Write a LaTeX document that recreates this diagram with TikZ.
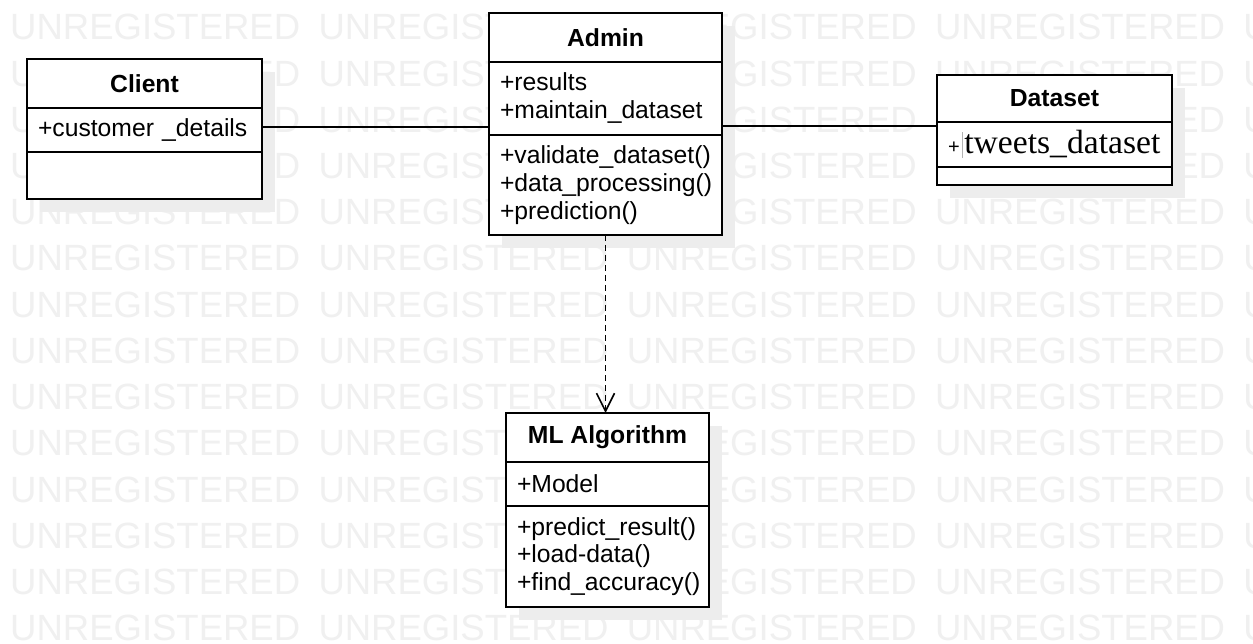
\documentclass[tikz,border=0pt]{standalone}
\usepackage{fontspec}
\setmainfont{Liberation Sans}
\newfontfamily\serifface{Liberation Serif}
\usetikzlibrary{arrows.meta}

\tikzset{
  part/.style={draw=black, line width=1.6pt, fill=white, anchor=north west,
    inner xsep=0pt, inner ysep=0pt, outer sep=0pt},
  titlepart/.style={part, font=\bfseries\fontsize{24.7}{28}\selectfont},
  listpart/.style={part, inner xsep=11pt, align=left,
    font=\fontsize{24.7}{28}\selectfont},
  shade/.style={fill=black!7, draw=none},
  wmark/.style={text=black!6, font=\fontsize{36.5}{40}\selectfont,
    anchor=base west, inner sep=0pt},
  link/.style={line width=1.6pt},
  depend/.style={line width=1.8pt, dash pattern=on 6pt off 4pt,
    -{Straight Barb[length=18pt,width=18pt,line width=1.6pt]}}
}

\begin{document}
\begin{tikzpicture}[x=1pt,y=-1pt]
\useasboundingbox (0,0) rectangle (1253,644);
\fill[white] (0,0) rectangle (1253,644);

% background lettering
\begin{scope}
  \clip (0,0) rectangle (1253,644);
  \foreach \r in {0,...,13}{
    \foreach \c in {0,...,4}{
      \node[wmark] (wm-\r-\c) at (10+308.3*\c, 40+46.2*\r) {UNREGISTERED};
    }
  }
\end{scope}

% drop shadows
\fill[shade] (40,72) rectangle (275,212);
\fill[shade] (502,26) rectangle (735,248);
\fill[shade] (950,88) rectangle (1185,198);
\fill[shade] (519,426) rectangle (722,620);

% Client
\node[titlepart, minimum width=235, minimum height=49] (client-name) at (27,59) {Client};
\node[listpart, text width=213, minimum height=44] (client-attr) at (27,108) {+customer \_details};
\node[listpart, text width=213, minimum height=47] (client-ops) at (27,152) {};

% Admin
\node[titlepart, minimum width=233, minimum height=49] (admin-name) at (489,13) {Admin};
\node[listpart, text width=211, minimum height=73] (admin-attr) at (489,62)
  {+results\\+maintain\_dataset};
\node[listpart, text width=211, minimum height=100] (admin-ops) at (489,135)
  {+validate\_dataset()\\+data\_processing()\\+prediction()};

% Dataset
\node[titlepart, minimum width=235, minimum height=47] (dataset-name) at (937,75) {Dataset};
\node[listpart, text width=213, minimum height=45] (dataset-attr) at (937,122)
  {{\fontsize{20}{24}\selectfont +}\hspace{2pt}\textcolor{black!30}{\rule[-4pt]{0.7pt}{26pt}}\hspace{2pt}{\serifface\fontsize{33.6}{36}\selectfont tweets\_dataset}};
\node[listpart, text width=213, minimum height=18] (dataset-ops) at (937,167) {};

% ML Algorithm
\node[titlepart, minimum width=203, minimum height=49] (ml-name) at (506,413) {ML Algorithm};
\node[listpart, text width=181, inner xsep=11pt, minimum height=44] (ml-attr) at (506,462) {+Model};
\node[listpart, text width=181, minimum height=101] (ml-ops) at (506,506)
  {\fontsize{24.7}{27}\selectfont +predict\_result()\\+load-data()\\+find\_accuracy()};

% connectors
\coordinate (row) at (0,126);
\draw[link] ([yshift=3pt]client-attr.east) -- ([yshift=3pt]client-attr.east -| admin-attr.west);
\draw[link] (admin-attr.east |- row) -- (dataset-attr.west |- row);
\draw[depend] (admin-ops.south) -- (admin-ops.south |- ml-name.north);
\end{tikzpicture}
\end{document}
